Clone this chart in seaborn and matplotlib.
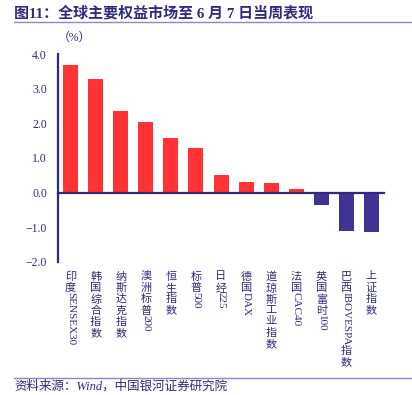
import matplotlib
matplotlib.use("Agg")
import matplotlib.pyplot as plt
import seaborn as sns
import pandas as pd

# data
markets = ["印度SENSEX30", "韩国综合指数", "纳斯达克指数", "澳洲标普200", "恒生指数",
           "标普500", "日经225", "德国DAX", "道琼斯工业指数", "法国CAC40",
           "英国富时100", "巴西IBOVESPA指数", "上证指数"]
weekly_change = [3.70, 3.27, 2.37, 2.05, 1.58, 1.30, 0.50, 0.31, 0.28, 0.11,
                 -0.36, -1.10, -1.15]
y_ticks = [-2.0, -1.0, 0.0, 1.0, 2.0, 3.0, 4.0]

RED = "#FF3333"
PURPLE = "#3F3494"
NAVY = "#2E2A82"
FONTS = ["Liberation Serif", "Noto Sans CJK SC", "DejaVu Sans"]

sns.set_style("white")
plt.rcParams["font.family"] = FONTS
plt.rcParams["axes.unicode_minus"] = True

df = pd.DataFrame({"market": markets, "change": weekly_change})
colors = [RED if v >= 0 else PURPLE for v in weekly_change]

fig = plt.figure(figsize=(4.12, 3.95), dpi=100)
ax = fig.add_axes([0.141, 0.337, 0.791, 0.526])

sns.barplot(data=df, x="market", y="change", hue="market", palette=colors,
            legend=False, width=0.6, saturation=1, ax=ax, edgecolor="none")

ax.set_ylim(-2, 4)
ax.set_xlim(-0.5, len(markets) - 0.5)
ax.set_yticks(y_ticks)
ax.set_yticklabels([f"{t:.1f}".replace("-", "\u2212") for t in y_ticks],
                   fontsize=8.5, color=NAVY)
ax.set_xlabel("")
ax.set_ylabel("")

for s in ["top", "right"]:
    ax.spines[s].set_visible(False)
ax.spines["bottom"].set_position(("data", 0))
ax.spines["left"].set_bounds(-2, 4)
for s in ["left", "bottom"]:
    ax.spines[s].set_color(NAVY)
    ax.spines[s].set_linewidth(1.6)

ax.set_xticks([i + 0.5 for i in range(len(markets))])
ax.set_xticklabels([])
ax.tick_params(axis="x", direction="in", length=3, width=1.2, color=NAVY)
ax.tick_params(axis="y", direction="in", length=4, width=1.2, color=NAVY, pad=8)

# vertical labels: CJK upright, latin runs rotated
fig.canvas.draw()
renderer = fig.canvas.get_renderer()


def is_cjk(ch):
    return ord(ch) > 0x2E80


def runs_of(label):
    runs = []
    for ch in label:
        if runs and not is_cjk(ch) and not is_cjk(runs[-1][-1]):
            runs[-1] += ch
        else:
            runs.append(ch)
    return runs


fs = 8
for i, name in enumerate(markets):
    offset = -7.0
    for run in runs_of(name):
        if is_cjk(run[0]):
            ax.annotate(run, xy=(i, 0), xycoords=("data", "axes fraction"),
                        xytext=(0, offset), textcoords="offset points",
                        ha="center", va="top", fontsize=fs, color=NAVY)
            offset -= fs * 1.02
        else:
            offset += 1.5
            t = ax.annotate(run, xy=(i, 0), xycoords=("data", "axes fraction"),
                            xytext=(0, offset), textcoords="offset points",
                            ha="center", va="top", fontsize=fs, color=NAVY,
                            rotation=-90)
            h = t.get_window_extent(renderer).height * 72 / fig.dpi
            offset -= h + 0.5

# title, unit, rules, source
fig.text(0.034, 0.968, "图11：全球主要权益市场至 6 月 7 日当周表现", fontsize=10.8,
         fontweight="bold", color=NAVY, va="center", ha="left")
fig.add_artist(plt.Line2D([0.034, 1.0], [0.944, 0.944], color="#8C86C8", lw=1))
fig.text(0.14, 0.905, "（%）", fontsize=8.5, color=NAVY, va="center", ha="left")
fig.add_artist(plt.Line2D([0.034, 1.0], [0.043, 0.043], color="#8C86C8", lw=1))
fig.text(0.034, 0.022, "资料来源：Wind，中国银河证券研究院", fontsize=9,
         style="italic", color=NAVY, va="center", ha="left")

fig.savefig("out.png", dpi=100)
